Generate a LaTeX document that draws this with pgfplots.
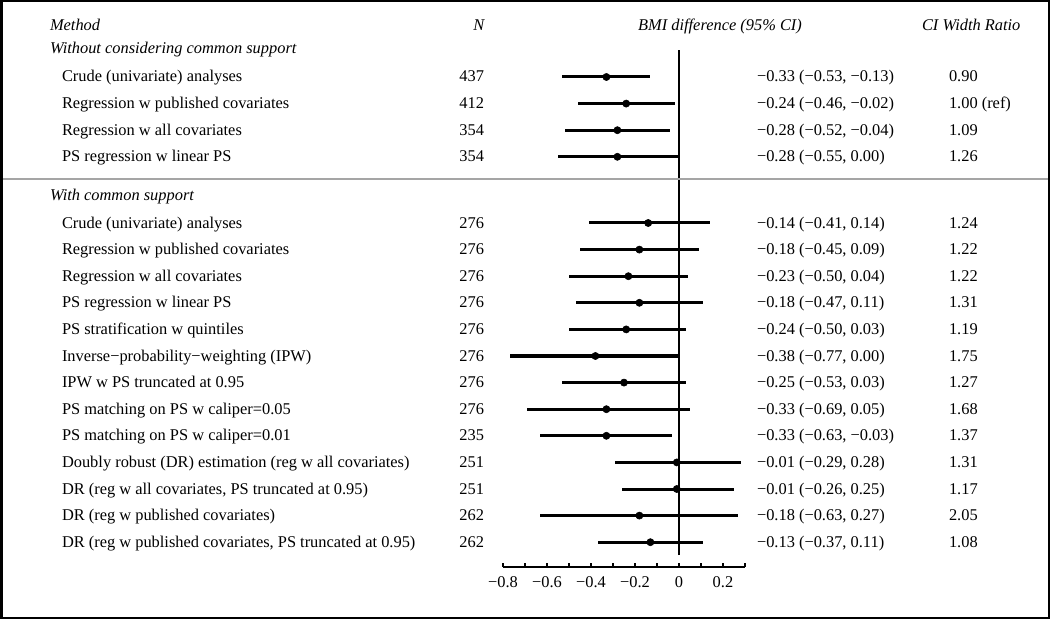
\documentclass[border=0pt]{standalone}
\usepackage{pgfplots}
\pgfplotsset{compat=1.18}
\usepackage{pgfplotstable}
\usepackage{fontspec}
\setmainfont{Liberation Serif}

% y = row centre (picture units, 1 unit = 1 px of the 1050x619 reference, measured from bottom)
\pgfplotstableread{
y      est    lo     hi
542.0  -0.33  -0.53  -0.13
515.4  -0.24  -0.46  -0.02
488.8  -0.28  -0.52  -0.04
462.2  -0.28  -0.55   0.00
396.0  -0.14  -0.41   0.14
369.4  -0.18  -0.45   0.09
342.8  -0.23  -0.50   0.04
316.2  -0.18  -0.47   0.11
289.6  -0.24  -0.50   0.03
263.0  -0.38  -0.77   0.00
236.4  -0.25  -0.53   0.03
209.8  -0.33  -0.69   0.05
183.2  -0.33  -0.63  -0.03
156.6  -0.01  -0.29   0.28
130.0  -0.01  -0.26   0.25
103.4  -0.18  -0.63   0.27
 76.8  -0.13  -0.37   0.11
}\forestdata

\newcommand{\frow}[5]{%
  \node[t,anchor=base west] at (62,#1) {#2};
  \node[t,anchor=base east] at (484,#1) {#3};
  \node[t,anchor=base west] at (757,#1) {#4};
  \node[t,anchor=base west] at (949,#1) {#5};}

\begin{document}
\fontsize{12.3}{14}\selectfont
\begin{tikzpicture}[x=0.75pt,y=0.75pt,t/.style={inner sep=0pt,outer sep=0pt}]
\useasboundingbox (0,0) rectangle (1050,619);

\begin{axis}[
  at={(377.25pt,39pt)}, anchor=south west,
  scale only axis, width=181.5pt, height=395.25pt,
  xmin=-0.8, xmax=0.3, ymin=52, ymax=579,
  clip=false,
  axis y line=none, axis x line=bottom,
  x axis line style={-, line width=1.5pt, black},
  xtick={-0.8,-0.7,-0.6,-0.5,-0.4,-0.3,-0.2,-0.1,0,0.1,0.2,0.3},
  xticklabels={−0.8,,−0.6,,−0.4,,−0.2,,0,,0.2,},
  tick align=inside, major tick length=3pt,
  x tick style={line width=1.2pt, black},
  xticklabel style={anchor=base, yshift=-15pt, inner sep=0pt},
]
\addplot[black, only marks, mark=*, mark size=2.7pt,
  error bars/.cd, x dir=both, x explicit, error mark=none,
  error bar style={line width=2.25pt, black}]
  table[x=est, y=y,
        x error plus expr=\thisrow{hi}-\thisrow{est},
        x error minus expr=\thisrow{est}-\thisrow{lo}] {\forestdata};
\draw[line width=1.5pt, black] (axis cs:0,64) -- (axis cs:0,569);
\end{axis}

% headers
\node[t,anchor=base west] at (50,588.5) {\textit{Method}};
\node[t,anchor=base east] at (485,588.5) {\textit{N}};
\node[t,anchor=base] at (720,588.5) {\textit{BMI difference (95\% CI)}};
\node[t,anchor=base west] at (922,588.5) {\textit{CI Width Ratio}};

\node[t,anchor=base west] at (50,565.5) {\textit{Without considering common support}};
\node[t,anchor=base west] at (50,418) {\textit{With common support}};

\frow{537.0}{Crude (univariate) analyses}{437}{−0.33 (−0.53, −0.13)}{0.90}
\frow{510.4}{Regression w published covariates}{412}{−0.24 (−0.46, −0.02)}{1.00 (ref)}
\frow{483.8}{Regression w all covariates}{354}{−0.28 (−0.52, −0.04)}{1.09}
\frow{457.2}{PS regression w linear PS}{354}{−0.28 (−0.55, 0.00)}{1.26}

\frow{391.0}{Crude (univariate) analyses}{276}{−0.14 (−0.41, 0.14)}{1.24}
\frow{364.4}{Regression w published covariates}{276}{−0.18 (−0.45, 0.09)}{1.22}
\frow{337.8}{Regression w all covariates}{276}{−0.23 (−0.50, 0.04)}{1.22}
\frow{311.2}{PS regression w linear PS}{276}{−0.18 (−0.47, 0.11)}{1.31}
\frow{284.6}{PS stratification w quintiles}{276}{−0.24 (−0.50, 0.03)}{1.19}
\frow{258.0}{Inverse−probability−weighting (IPW)}{276}{−0.38 (−0.77, 0.00)}{1.75}
\frow{231.4}{IPW w PS truncated at 0.95}{276}{−0.25 (−0.53, 0.03)}{1.27}
\frow{204.8}{PS matching on PS w caliper=0.05}{276}{−0.33 (−0.69, 0.05)}{1.68}
\frow{178.2}{PS matching on PS w caliper=0.01}{235}{−0.33 (−0.63, −0.03)}{1.37}
\frow{151.6}{Doubly robust (DR) estimation (reg w all covariates)}{251}{−0.01 (−0.29, 0.28)}{1.31}
\frow{125.0}{DR (reg w all covariates, PS truncated at 0.95)}{251}{−0.01 (−0.26, 0.25)}{1.17}
\frow{98.4}{DR (reg w published covariates)}{262}{−0.18 (−0.63, 0.27)}{2.05}
\frow{71.8}{DR (reg w published covariates, PS truncated at 0.95)}{262}{−0.13 (−0.37, 0.11)}{1.08}

% separator and frame
\draw[line width=1.5pt, color={rgb,255:red,165;green,165;blue,165}] (2.5,439.5) -- (1047.5,439.5);
\draw[line width=1.875pt, black] (1.25,1.25) rectangle (1048.75,617.75);
\end{tikzpicture}
\end{document}
